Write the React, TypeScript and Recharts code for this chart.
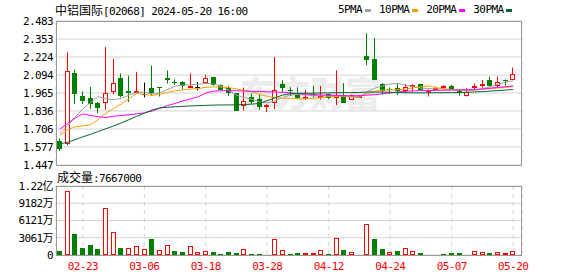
import { Bar, CartesianGrid, ComposedChart, Line, XAxis, YAxis } from 'recharts'

const dates = [
  '02-20', '02-21', '02-22', '02-23', '02-26', '02-27', '02-28', '02-29', '03-01', '03-04',
  '03-05', '03-06', '03-07', '03-08', '03-11', '03-12', '03-13', '03-14', '03-15', '03-18',
  '03-19', '03-20', '03-21', '03-22', '03-25', '03-26', '03-27', '03-28', '04-02', '04-03',
  '04-05', '04-08', '04-09', '04-10', '04-11', '04-12', '04-15', '04-16', '04-17', '04-18',
  '04-19', '04-22', '04-23', '04-24', '04-25', '04-26', '04-29', '04-30', '05-02', '05-03',
  '05-06', '05-07', '05-08', '05-09', '05-10', '05-13', '05-14', '05-16', '05-17', '05-20',
]
const dateTicks = ['02-23', '03-06', '03-18', '03-28', '04-12', '04-24', '05-07', '05-20']

const opens = [
  1.619, 1.595, 2.106, 1.943, 1.931, 1.891, 1.891, 1.969, 2.075, 1.978,
  1.969, 1.958, 2.004, 2.006, 2.075, 2.044, 2.047, 2.009, 2.011, 2.040,
  2.077, 2.021, 2.004, 1.962, 1.870, 1.933, 1.922, 1.878, 1.891, 2.028,
  1.983, 1.957, 1.926, 1.957, 1.938, 1.958, 1.929, 1.952, 1.918, 1.932,
  2.233, 2.211, 2.030, 1.995, 1.998, 1.978, 2.013, 2.027, 1.976, 1.989,
  2.001, 2.013, 1.978, 1.940, 2.002, 2.016, 2.056, 2.015, 2.061, 2.060,
]
const highs = [
  1.638, 2.257, 2.134, 1.976, 2.009, 1.900, 2.295, 2.210, 2.106, 2.090,
  2.115, 2.040, 2.163, 2.006, 2.127, 2.063, 2.050, 2.106, 2.044, 2.096,
  2.082, 2.028, 2.016, 1.962, 2.004, 1.962, 1.957, 1.884, 2.224, 2.056,
  2.007, 2.006, 1.985, 2.016, 2.016, 1.960, 2.127, 2.035, 1.955, 1.950,
  2.396, 2.361, 2.036, 2.005, 2.030, 2.028, 2.027, 2.030, 1.990, 2.011,
  2.020, 2.023, 1.995, 2.000, 2.033, 2.058, 2.082, 2.083, 2.063, 2.148,
]
const lows = [
  1.548, 1.590, 1.884, 1.886, 1.851, 1.820, 1.846, 1.957, 1.933, 1.900,
  1.960, 1.933, 1.945, 1.940, 2.033, 2.023, 1.993, 2.009, 1.983, 2.040,
  2.016, 1.985, 1.945, 1.839, 1.839, 1.886, 1.844, 1.827, 1.850, 1.969,
  1.943, 1.922, 1.917, 1.933, 1.917, 1.920, 1.878, 1.893, 1.916, 1.930,
  2.165, 2.057, 1.952, 1.960, 1.950, 1.965, 1.976, 1.985, 1.940, 1.988,
  1.997, 1.988, 1.945, 1.940, 1.988, 2.004, 2.012, 2.003, 2.017, 2.060,
]
const closes = [
  1.562, 2.125, 1.959, 1.907, 1.886, 1.858, 1.962, 2.035, 1.945, 1.964,
  1.981, 1.958, 1.964, 2.002, 2.056, 2.040, 2.014, 2.016, 2.011, 2.075,
  2.021, 1.988, 1.964, 1.839, 1.910, 1.898, 1.862, 1.882, 1.985, 2.000,
  1.979, 1.929, 1.938, 1.941, 1.942, 1.930, 1.950, 1.893, 1.951, 1.945,
  2.200, 2.057, 1.981, 1.985, 1.982, 2.011, 2.025, 1.990, 1.985, 2.004,
  2.012, 1.992, 1.962, 1.972, 2.013, 2.032, 2.013, 2.047, 2.053, 2.099,
]

const ma5 = [
  1.673, 1.728, 1.792, 1.851, 1.898, 1.940, 1.922, 1.917, 1.926, 1.950,
  1.969, 1.972, 1.957, 1.967, 1.990, 2.014, 2.022, 2.024, 2.028, 2.034,
  2.030, 2.016, 1.985, 1.950, 1.932, 1.920, 1.900, 1.893, 1.908, 1.932,
  1.950, 1.955, 1.950, 1.946, 1.944, 1.945, 1.945, 1.940, 1.936, 1.933,
  1.975, 2.000, 2.016, 2.030, 2.033, 2.022, 2.011, 2.000, 1.997, 1.995,
  1.993, 1.990, 1.985, 1.982, 1.986, 1.995, 2.010, 2.028, 2.042, 2.052,
]
const ma10 = [
  1.660, 1.700, 1.722, 1.728, 1.737, 1.775, 1.820, 1.853, 1.886, 1.925,
  1.962, 1.955, 1.948, 1.955, 1.970, 1.980, 1.988, 1.993, 1.997, 2.006,
  2.009, 2.008, 2.004, 1.994, 1.985, 1.975, 1.955, 1.940, 1.932, 1.928,
  1.926, 1.922, 1.924, 1.926, 1.932, 1.938, 1.942, 1.943, 1.940, 1.940,
  1.962, 1.978, 1.985, 1.988, 1.990, 1.992, 2.002, 2.010, 2.016, 2.004,
  1.995, 1.990, 1.988, 1.988, 1.988, 1.992, 1.997, 2.001, 2.005, 2.011,
]
const ma20 = [
  1.704, 1.745, 1.785, 1.815, 1.803, 1.795, 1.788, 1.798, 1.803, 1.808,
  1.815, 1.822, 1.835, 1.855, 1.874, 1.890, 1.908, 1.922, 1.938, 1.965,
  1.978, 1.981, 1.982, 1.981, 1.979, 1.977, 1.976, 1.974, 1.972, 1.970,
  1.966, 1.960, 1.957, 1.954, 1.950, 1.949, 1.947, 1.946, 1.945, 1.946,
  1.950, 1.953, 1.960, 1.966, 1.972, 1.978, 1.980, 1.982, 1.983, 1.984,
  1.985, 1.986, 1.987, 1.988, 1.990, 1.994, 2.000, 2.005, 2.010, 2.016,
]
const ma30 = [
  1.600, 1.610, 1.630, 1.650, 1.668, 1.688, 1.708, 1.728, 1.750, 1.773,
  1.797, 1.820, 1.842, 1.858, 1.862, 1.866, 1.869, 1.872, 1.874, 1.876,
  1.878, 1.879, 1.879, 1.880, 1.882, 1.885, 1.890, 1.910, 1.930, 1.950,
  1.960, 1.962, 1.963, 1.964, 1.965, 1.966, 1.967, 1.968, 1.968, 1.969,
  1.972, 1.972, 1.972, 1.970, 1.968, 1.967, 1.966, 1.966, 1.966, 1.967,
  1.967, 1.968, 1.968, 1.970, 1.973, 1.975, 1.979, 1.982, 1.986, 1.990,
]

// 成交量, 单位: 万股
const volumes = [
  768, 11347, 3780, 1270, 1773, 1064, 8360, 4080, 1270, 1210,
  1566, 1064, 2866, 857, 1743, 738, 560, 1566, 500, 680,
  560, 236, 532, 385, 1005, 207, 207, 177, 2778, 827,
  236, 355, 355, 355, 827, 236, 2955, 887, 473, 177,
  5437, 2837, 1064, 532, 709, 1182, 650, 355, 177, 177,
  177, 355, 355, 177, 709, 532, 355, 532, 355, 767,
]
// 1 = 红 (收涨), 0 = 绿
const volUp = [
  0, 1, 0, 0, 0, 0, 1, 1, 0, 1,
  1, 1, 0, 1, 1, 0, 0, 1, 1, 1,
  0, 0, 0, 0, 1, 0, 0, 1, 1, 1,
  0, 0, 1, 1, 1, 0, 1, 0, 1, 1,
  1, 0, 0, 1, 0, 1, 1, 0, 1, 1,
  0, 0, 0, 1, 1, 1, 0, 1, 1, 1,
]

const priceTicks = [1.447, 1.577, 1.706, 1.836, 1.965, 2.094, 2.224, 2.353, 2.483]
const volTicks = [0, 3061, 6121, 9182, 12242]

const RED = '#ff0000'
const GREEN = '#008000'
const GRID = '#d3d3d3'
const FRAME = '#999999'
const MONO = '"DejaVu Sans Mono", "Noto Sans CJK SC", monospace'
const CJK = '"Noto Sans CJK SC", sans-serif'

const priceData = dates.map((date, i) => ({
  date,
  open: opens[i],
  high: highs[i],
  low: lows[i],
  close: closes[i],
  range: [lows[i], highs[i]],
  ma5: ma5[i],
  ma10: ma10[i],
  ma20: ma20[i],
  ma30: ma30[i],
}))

const volumeData = dates.map((date, i) => ({ date, vol: volumes[i], up: volUp[i] === 1 }))

function Candle(props: any) {
  const { x, y, width, height, payload } = props
  const { open, close, high, low } = payload
  const c = Math.floor(x + width / 2)
  const toY = (v: number) => (high > low ? y + ((high - v) / (high - low)) * height : y)
  const color = close > open ? RED : close < open ? GREEN : '#000'
  const top = Math.round(toY(Math.max(open, close)))
  const bottom = Math.round(toY(Math.min(open, close)))
  return (
    <g>
      <line x1={c + 0.5} x2={c + 0.5} y1={y} y2={y + height} stroke={color} />
      {close > open ? (
        <rect x={c - 1.5} y={top + 0.5} width={4} height={Math.max(bottom - top - 1, 1)} fill="#fff" stroke={color} />
      ) : close < open ? (
        <rect x={c - 2} y={top} width={5} height={Math.max(bottom - top, 1)} fill={color} />
      ) : (
        <line x1={c - 2} x2={c + 3} y1={top + 0.5} y2={top + 0.5} stroke={color} />
      )}
    </g>
  )
}

function VolumeBar(props: any) {
  const { x, y, width, height, payload } = props
  const c = Math.floor(x + width / 2)
  const top = Math.round(y)
  const bottom = Math.round(y + height)
  if (payload.up) {
    return <rect x={c - 1.5} y={top + 0.5} width={4} height={Math.max(bottom - top - 1, 0)} fill="#fff" stroke={RED} />
  }
  return <rect x={c - 2} y={top} width={5} height={Math.max(bottom - top, 1)} fill={GREEN} />
}

const formatVolume = (v: number) => {
  if (v === 0) return '0'
  if (v >= 10000) return (v / 10000).toFixed(2) + '亿'
  return Math.round(v) + '万'
}

const tickStyle = { fill: '#000', fontSize: 11, fontFamily: MONO, letterSpacing: -0.6 }

const legend = [
  { name: '5PMA', color: '#a0a0a0' },
  { name: '10PMA', color: '#f5a100' },
  { name: '20PMA', color: '#ff00ff' },
  { name: '30PMA', color: '#00662e' },
]

export default function App() {
  return (
    <div style={{ position: 'fixed', left: 0, top: 0, width: 578, height: 276, background: '#fff', overflow: 'hidden' }}>
      {/* watermark */}
      <div
        style={{
          position: 'absolute',
          left: 240,
          top: 70,
          fontFamily: CJK,
          fontSize: 35,
          fontWeight: 900,
          color: '#ececec',
          whiteSpace: 'nowrap',
          lineHeight: '44px',
        }}
      >
        东方财富
      </div>

      {/* title */}
      <div style={{ position: 'absolute', left: 55, top: 3, whiteSpace: 'nowrap', lineHeight: '14px', color: '#000' }}>
        <span style={{ fontFamily: CJK, fontSize: 12 }}>中铝国际</span>
        <span style={{ fontFamily: MONO, fontSize: 11, letterSpacing: -0.6 }}>[02068] 2024-05-20 16:00</span>
      </div>

      {/* legend */}
      <div style={{ position: 'absolute', left: 338, top: 3, display: 'flex', alignItems: 'center', lineHeight: '14px' }}>
        {legend.map((item) => (
          <div key={item.name} style={{ display: 'flex', alignItems: 'center', marginRight: 8 }}>
            <span style={{ fontFamily: MONO, fontSize: 11, letterSpacing: -0.6, color: '#000' }}>{item.name}</span>
            <span style={{ display: 'inline-block', width: 6, height: 3, marginLeft: 3, background: item.color }} />
          </div>
        ))}
      </div>

      {/* price chart */}
      <div style={{ position: 'absolute', left: 0, top: 0 }}>
        <ComposedChart width={578} height={178} data={priceData} margin={{ top: 21, right: 56, bottom: 0, left: 0 }}>
          <CartesianGrid vertical={false} stroke={GRID} />
          <CartesianGrid horizontal={false} stroke={GRID} strokeDasharray="4 4" />
          <XAxis
            dataKey="date"
            ticks={dateTicks}
            interval={0}
            tick={false}
            axisLine={false}
            tickLine={false}
            height={13}
            padding={{ left: 0, right: 5 }}
          />
          <YAxis
            type="number"
            domain={[1.447, 2.483]}
            ticks={priceTicks}
            interval={0}
            width={56}
            axisLine={false}
            tickLine={false}
            tickSize={0}
            tickMargin={3}
            tick={tickStyle}
            tickFormatter={(v: number) => v.toFixed(3)}
          />
          <Bar dataKey="range" barSize={5} shape={Candle} isAnimationActive={false} />
          <Line dataKey="ma5" stroke={legend[0].color} strokeWidth={1} dot={false} activeDot={false} isAnimationActive={false} />
          <Line dataKey="ma10" stroke={legend[1].color} strokeWidth={1} dot={false} activeDot={false} isAnimationActive={false} />
          <Line dataKey="ma20" stroke={legend[2].color} strokeWidth={1} dot={false} activeDot={false} isAnimationActive={false} />
          <Line dataKey="ma30" stroke={legend[3].color} strokeWidth={1} dot={false} activeDot={false} isAnimationActive={false} />
        </ComposedChart>
      </div>
      <div style={{ position: 'absolute', left: 56, top: 21, width: 466, height: 145, border: `1px solid ${FRAME}`, boxSizing: 'border-box', pointerEvents: 'none' }} />

      {/* volume label */}
      <div style={{ position: 'absolute', left: 57, top: 170, whiteSpace: 'nowrap', lineHeight: '14px', color: '#000' }}>
        <span style={{ fontFamily: CJK, fontSize: 12 }}>成交量</span>
        <span style={{ fontFamily: MONO, fontSize: 11, letterSpacing: -0.6 }}>:7667000</span>
      </div>

      {/* volume chart */}
      <div style={{ position: 'absolute', left: 0, top: 176 }}>
        <ComposedChart width={578} height={100} data={volumeData} margin={{ top: 10, right: 56, bottom: 0, left: 0 }}>
          <CartesianGrid vertical={false} stroke={GRID} />
          <CartesianGrid horizontal={false} stroke={GRID} strokeDasharray="4 4" />
          <XAxis
            dataKey="date"
            ticks={dateTicks}
            interval={0}
            axisLine={false}
            tickLine={false}
            tickSize={0}
            tickMargin={7}
            height={21}
            padding={{ left: 0, right: 5 }}
            tick={{ ...tickStyle, fill: RED }}
          />
          <YAxis
            type="number"
            domain={[0, 12242]}
            ticks={volTicks}
            interval={0}
            width={56}
            axisLine={false}
            tickLine={false}
            tickSize={0}
            tickMargin={3}
            tick={tickStyle}
            tickFormatter={formatVolume}
          />
          <Bar dataKey="vol" barSize={5} shape={VolumeBar} isAnimationActive={false} />
        </ComposedChart>
      </div>
      <div style={{ position: 'absolute', left: 56, top: 186, width: 466, height: 70, border: `1px solid ${FRAME}`, boxSizing: 'border-box', pointerEvents: 'none' }} />
    </div>
  )
}
